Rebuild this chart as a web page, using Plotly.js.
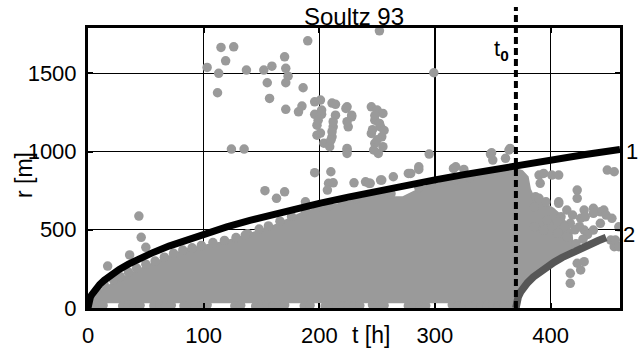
<!DOCTYPE html>
<html>
<head>
<meta charset="utf-8">
<script src="https://cdn.plot.ly/plotly-3.0.1.min.js"></script>
<style>html,body{margin:0;padding:0;background:#fff;}#chart{width:638px;height:350px;}</style>
</head>
<body>
<div id="chart"></div>
<script>
// ---------- data ----------
const xTicks = [0, 100, 200, 300, 400];
const yTicks = [0, 500, 1000, 1500];
const t0 = 370;

// curve 1 (black) t [h], r [m]
const curve1T = [0, 0.5, 1, 2, 3, 5, 7, 10, 14, 20, 27, 35, 45, 55, 70, 85, 100, 120, 140, 160, 180, 200, 225, 250, 275, 300, 325, 350, 375, 400, 430, 460];
const curve1R = [0, 33, 47, 67, 82, 106, 125, 150, 177, 212, 246, 280, 317, 351, 396, 436, 473, 518, 560, 598, 635, 669, 709, 748, 784, 819, 853, 885, 916, 946, 981, 1014];

// curve 2 (dark grey), starts at t0
const curve2T = [370, 370.5, 371, 372, 374, 376, 380, 385, 390, 396, 403, 410, 418, 426, 434, 441, 448];
const curve2R = [0, 36, 51, 72, 102, 125, 161, 198, 228, 260, 293, 323, 353, 382, 408, 430, 450];

// outline of the dense event cloud before t0 (upper edge, then lower edge)
const cloudTopT = [0, 2, 5, 10, 20, 30, 45, 55, 70, 84, 100, 115, 130, 145, 160, 172, 185, 200, 215, 230, 245, 258, 265, 272, 280, 290, 305, 320, 335, 350, 362, 370];
const cloudTopR = [0, 40, 75, 110, 160, 200, 255, 290, 335, 380, 405, 425, 455, 495, 530, 570, 615, 648, 668, 695, 720, 735, 715, 715, 745, 780, 805, 830, 850, 870, 885, 895];
const cloudBottomT = [370, 3, 0];
const cloudBottomR = [30, 30, 0];

// outline of the dense cloud after t0
const cloudPostT = [370, 376, 381, 383, 386, 392, 398, 403, 408, 412, 416, 419, 420, 418, 410, 403, 396, 390, 385, 380, 376, 373, 371, 370];
const cloudPostR = [895, 880, 840, 760, 715, 690, 665, 640, 605, 570, 530, 480, 400, 353, 323, 293, 262, 232, 198, 161, 125, 95, 55, 0];

// events along the lower edge of the cloud
const bottomT = [3, 8, 13, 30, 35, 40, 45, 57, 62, 67, 72, 83, 88, 93, 98, 103, 127, 132, 145, 150, 155, 160, 165, 170, 187, 192, 205, 210, 215, 220, 225, 230, 235, 246, 251, 256, 277, 282, 287, 292, 315, 320, 325, 330, 335, 340, 345, 350, 355, 360, 365];
const bottomR = [15, 12, 18, 14, 20, 12, 17, 15, 20, 12, 18, 14, 19, 12, 16, 20, 14, 18, 12, 17, 20, 13, 16, 19, 14, 18, 12, 16, 20, 14, 18, 12, 16, 20, 13, 17, 15, 19, 12, 16, 20, 13, 17, 14, 19, 12, 16, 20, 14, 18, 15];

// events along the upper edge of the cloud
const edgeT = [8, 14, 22, 28, 35, 42, 50, 58, 66, 74, 82, 90, 98, 108, 118, 128, 138, 148, 156, 166, 176, 188, 198, 208, 220, 232, 244, 254, 262, 286, 296, 308, 318, 330, 342, 354, 364];
const edgeR = [115, 150, 180, 200, 230, 255, 280, 300, 325, 350, 370, 385, 400, 418, 432, 450, 475, 505, 525, 555, 585, 620, 645, 655, 675, 700, 720, 735, 730, 770, 790, 805, 820, 835, 855, 870, 885];

// scattered events before t0
const scatterT = [17, 36, 44, 46, 50, 136, 124, 135,
  115, 126, 119, 103, 113, 112, 137, 152, 159, 170, 171, 173, 171, 155, 157, 186, 171, 182, 185, 190, 252, 299,
  196, 196, 198, 198, 202, 201, 202, 199, 201, 204, 211, 214, 212, 211, 209, 214, 210, 211, 212,
  224, 228, 225, 224, 223, 224, 228, 224, 224,
  245, 250, 255, 248, 253, 245, 254, 248, 255, 251, 248, 252, 246, 250, 256, 247,
  295, 348, 364, 349,
  153, 163, 170, 196, 210, 208, 212, 207, 230, 240, 244, 254, 264, 279, 286, 243, 253, 277, 286, 316, 325, 318, 350, 361, 188];
const scatterR = [268, 339, 588, 452, 388, 466, 1016, 1016,
  1666, 1670, 1580, 1538, 1500, 1376, 1521, 1521, 1546, 1606, 1532, 1482, 1440, 1440, 1340, 1408, 1270, 1254, 1291, 1708, 1772, 1504,
  1318, 1238, 1169, 1105, 1238, 1329, 1265, 1201, 1118, 1054, 1310, 1233, 1158, 1094, 1031, 1302, 1073, 1127, 1191,
  1286, 1222, 1158, 1010, 1276, 1191, 1233, 1020, 988,
  1286, 1265, 1244, 1201, 1158, 1116, 1094, 1052, 1031, 988, 1230, 1180, 1140, 1075, 1135, 1010,
  984, 984, 1010, 992,
  750, 701, 743, 865, 871, 797, 800, 754, 800, 807, 797, 818, 839, 860, 886, 797, 818, 860, 903, 892, 886, 903, 946, 957, 679];

// scattered events after t0
const lateT = [365, 390, 401, 407, 394, 449, 455, 391, 423, 423, 387, 386, 407, 414, 409, 419, 429, 437, 446, 443, 448, 453, 459, 397, 406, 417, 426, 430, 437, 437, 443, 386, 394, 406, 414, 429, 452, 455, 456, 459, 423, 426, 417, 417, 429, 390, 396, 407, 425, 432, 421, 428, 412, 422];
const lateR = [1020, 850, 850, 850, 860, 882, 871, 797, 754, 701, 711, 647, 679, 626, 583, 594, 626, 637, 626, 615, 594, 573, 519, 562, 551, 541, 573, 583, 605, 498, 541, 520, 498, 477, 456, 498, 434, 392, 434, 392, 286, 243, 222, 158, 296, 701, 679, 669, 520, 470, 500, 440, 520, 410];

// ---------- drawing ----------
const GREY = '#9a9a9a';
const FONT = '"Liberation Sans", Arial, Helvetica, sans-serif';
const L = 88, T = 28, W = 532, H = 280;
const pxX = x => (x - L) / W;
const pxY = y => (T + H - y) / H;

const cloudX = cloudTopT.concat(cloudBottomT, [null], cloudPostT);
const cloudY = cloudTopR.concat(cloudBottomR, [null], cloudPostR);

const ptsX = bottomT.concat(edgeT, scatterT, lateT);
const ptsY = bottomR.concat(edgeR, scatterR, lateR);

const traces = [
  {x: cloudX, y: cloudY, type: 'scatter', mode: 'lines', fill: 'toself', fillcolor: GREY,
   line: {width: 0, color: GREY}, hoverinfo: 'skip', showlegend: false},
  {x: ptsX, y: ptsY, type: 'scatter', mode: 'markers',
   marker: {size: 9.5, color: GREY, line: {width: 0}}, showlegend: false},
  {x: curve1T, y: curve1R, type: 'scatter', mode: 'lines',
   line: {color: '#000', width: 7}, showlegend: false},
  {x: curve2T, y: curve2R, type: 'scatter', mode: 'lines',
   line: {color: '#575757', width: 7.5}, showlegend: false}
];

const axisCommon = {
  showgrid: true, gridcolor: '#000', gridwidth: 1.3,
  showline: true, linecolor: '#000', linewidth: 3, mirror: 'ticks',
  ticks: 'inside', ticklen: 5, tickwidth: 2, tickcolor: '#000',
  zeroline: false, tickfont: {family: FONT, size: 22, color: '#000'},
  fixedrange: true
};

const ann = (text, x, y, extra) => Object.assign({
  text: text, x: pxX(x), y: pxY(y), xref: 'paper', yref: 'paper',
  xanchor: 'center', yanchor: 'middle', showarrow: false,
  font: {family: FONT, size: 22, color: '#000'}
}, extra || {});

const layout = {
  width: 638, height: 350,
  margin: {l: L, r: 638 - L - W, t: T, b: 350 - T - H, pad: 0},
  paper_bgcolor: '#fff', plot_bgcolor: '#fff',
  showlegend: false,
  title: {text: 'Soultz 93', x: pxX(354), xref: 'paper', xanchor: 'center',
          y: 1 - 17 / 350, yref: 'container', yanchor: 'middle',
          font: {family: FONT, size: 24, color: '#000'}},
  xaxis: Object.assign({}, axisCommon, {range: [0, 460], tickvals: xTicks, ticktext: xTicks.map(String), ticklabelstandoff: 6}),
  yaxis: Object.assign({}, axisCommon, {range: [0, 1790], tickvals: yTicks, ticktext: yTicks.map(String), ticklabelstandoff: 4}),
  shapes: [{type: 'line', xref: 'x', yref: 'paper', x0: t0, x1: t0, y0: 0, y1: pxY(7),
            line: {color: '#000', width: 4, dash: '7px,4px'}, layer: 'above'}],
  annotations: [
    ann('r [m]', 24, 175, {textangle: -90, font: {family: FONT, size: 23, color: '#000'}}),
    ann('t [h]', 371, 335, {font: {family: FONT, size: 23, color: '#000'}}),
    ann('t<sub><b>0</b></sub>', 501, 50),
    ann('1', 632, 151),
    ann('2', 629, 234)
  ]
};

Plotly.newPlot('chart', traces, layout, {displayModeBar: false, staticPlot: true});
</script>
</body>
</html>
